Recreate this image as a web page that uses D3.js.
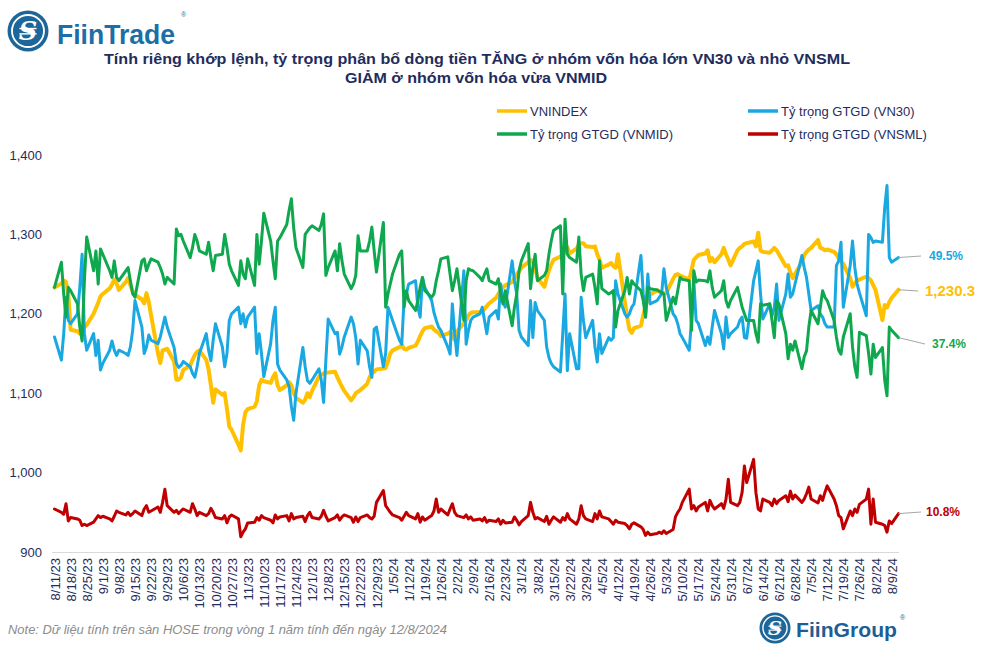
<!DOCTYPE html>
<html>
<head>
<meta charset="utf-8">
<script src="https://cdn.jsdelivr.net/npm/d3@7/dist/d3.min.js"></script>
<style>
  html, body { margin: 0; padding: 0; background: #ffffff; }
  svg { display: block; }
  text { font-family: "Liberation Sans", Arial, sans-serif; }
</style>
</head>
<body>
<svg id="chart" width="986" height="651"></svg>
<script>
// ---------------- DATA ----------------
const titleLines = [
  "Tính riêng khớp lệnh, tỷ trọng phân bổ dòng tiền TĂNG ở nhóm vốn hóa lớn VN30 và nhỏ VNSML",
  "GIẢM ở nhóm vốn hóa vừa VNMID"
];
const seriesNames = ["VNINDEX", "Tỷ trọng GTGD (VN30)", "Tỷ trọng GTGD (VNMID)", "Tỷ trọng GTGD (VNSML)"];
const yTicks = [900, 1000, 1100, 1200, 1300, 1400];
const weekLabels = ["8/11/23","8/18/23","8/25/23","9/1/23","9/8/23","9/15/23","9/22/23","9/29/23","10/6/23","10/13/23","10/20/23","10/27/23","11/3/23","11/10/23","11/17/23","11/24/23","12/1/23","12/8/23","12/15/23","12/22/23","12/29/23","1/5/24","1/12/24","1/19/24","1/26/24","2/2/24","2/9/24","2/16/24","2/23/24","3/1/24","3/8/24","3/15/24","3/22/24","3/29/24","4/5/24","4/12/24","4/19/24","4/26/24","5/3/24","5/10/24","5/17/24","5/24/24","5/31/24","6/7/24","6/14/24","6/21/24","6/28/24","7/5/24","7/12/24","7/19/24","7/26/24","8/2/24","8/9/24"];
const firstDay = "8/11/23";
const lastDay = "8/12/24";

// trading days: 8/11/23, then Mon..Fri of each week, then 8/12/24
const vnindex = [1233,
 1238,1242,1240,1225,1180,
 1178,1175,1180,1183,1186,
 1200,1207,1214,1222,1225,
 1232,1237,1243,1238,1230,
 1240,1245,1236,1228,1224,
 1218,1213,1226,1215,1198,
 1150,1138,1154,1155,1156,
 1140,1117,1117,1120,1129,
 1135,1142,1148,1152,1154,
 1142,1130,1110,1088,1105,
 1098,1100,1080,1058,1054,
 1035,1028,1060,1076,1080,
 1083,1090,1110,1117,1115,
 1113,1120,1125,1110,1104,
 1110,1114,1110,1100,1094,
 1088,1092,1100,1095,1103,
 1121,1123,1125,1126,1126,
 1127,1120,1114,1108,1103,
 1091,1095,1100,1102,1104,
 1112,1120,1125,1127,1130,
 1131,1132,1140,1150,1154,
 1158,1161,1156,1155,1157,
 1160,1165,1172,1178,1182,
 1184,1180,1178,1176,1172,
 1175,1177,1172,1167,1178,
 1188,1192,1198,1201,1202,
 1202,1203,1206,1210,1213,
 1220,1225,1230,1233,1236,
 1240,1245,1250,1253,1258,
 1265,1268,1265,1258,1245,
 1234,1245,1255,1262,1268,
 1272,1276,1280,1284,1276,
 1282,1287,1289,1289,1285,
 1284,1285,1275,1268,1258,
 1262,1264,1260,1258,1275,
 1215,1196,1180,1176,1182,
 1185,1198,1210,1218,1224,
 1230,1228,1227,1226,1226,
 1244,1249,1250,1248,1247,
 1243,1255,1268,1271,1274,
 1276,1280,1266,1270,1265,
 1275,1283,1275,1268,1261,
 1280,1283,1285,1288,1289,
 1291,1285,1302,1280,1278,
 1277,1280,1283,1280,1275,
 1260,1261,1252,1245,1250,
 1265,1274,1278,1281,1283,
 1293,1283,1282,1280,1281,
 1278,1275,1270,1266,1263,
 1245,1234,1238,1242,1243,
 1247,1245,1242,1236,1230,
 1192,1211,1208,1215,1220,
 1230.3];

const vn30 = [37.5,
 34,38,43.5,40,39.5,
 41,45,50,38,35.5,
 38,34.7,37,32.5,33.5,
 35.5,36.9,35.5,34.7,35.5,
 35,34.7,36,38.5,43,
 39,35,36,37.8,37,
 36.5,37.5,39,40.5,39,
 35.9,33.5,32.9,33.2,33.8,
 33,32,31.4,33,35,
 38,35.5,33.9,37,39.5,
 36,33,35,40,41,
 42,39.5,41,39,40.5,
 42,35,38,35,31.5,
 36.5,40,42,33.4,32.5,
 31,30,27,24.9,29,
 35.9,33,30.9,30.5,31,
 32.7,31,27.6,34,40.2,
 38,38.2,34.9,36,37.5,
 40.5,39.5,37.4,33.4,37,
 35.4,33,31.4,38.7,39,
 33,35,42,41,40,
 37,36.4,43.2,44,45.5,
 46,42,40.5,46.5,45,
 43,41.2,40,39,38.5,
 36,34.9,42.5,38,34.7,
 47.5,36.4,38.5,40,40.5,
 41,42,40,38,40.5,
 41.5,40.2,45.5,43,42,
 49,46,44,38.5,37.5,
 36.2,43,37.4,42.7,41.5,
 40,36,34.4,33.5,33,
 32.2,38,44,32.4,38,
 32.7,32.7,43.5,40,37.4,
 40,36,33.7,38,35,
 37.4,37,37.4,46,44,
 41,40.5,41,42,42.5,
 49.8,44,40.5,47,42.5,
 43,43.5,44,47.8,45,
 41,40.5,39.5,38,37.4,
 35.5,40,46,40,39.5,
 36.2,37.5,36.4,39,41.5,
 38,35.7,40.5,37.4,38,
 39,40,40.5,37.4,37.3,
 46,47.5,49,44,40.2,
 42.5,40.7,42,45.5,40,
 44,47,43.5,44,45.5,
 49.8,48,46.5,44,41.5,
 42.2,41,40.5,39.5,39,
 39,48.3,49,51.8,42,
 48.3,52,48,45.5,44.2,
 40.7,53,52.5,51.8,52,
 51.8,57,60.4,49.5,48.8,
 49.5];

const vnmid = [45,
 48.8,44,40.5,45,44.5,
 42.5,39,36.9,46,52.6,
 47.5,50.5,45.5,50.8,50,
 47.5,46.5,49,46.5,46,
 47.5,48,46,44,43.5,
 49,49.3,47.5,48.5,49.3,
 48.8,48,47,45.5,46.5,
 45.5,53.8,52.8,53,52,
 49.5,51,53,52,50.5,
 50,51.8,49.5,47.5,49.8,
 50,53,51,48.5,47.5,
 45.3,49,47,46.3,49.3,
 45.3,53,48.5,52,56.2,
 52,49,46.3,52,52.5,
 54.5,56.6,58.4,54,51,
 48,53,53.5,54,54.3,
 53.6,54.5,56.1,46.8,48,
 50.5,47.5,51.6,49,47,
 44.8,45.5,46.8,52.8,50.5,
 50.5,52,54.1,50.5,47.3,
 54.8,42,44,45.5,47,
 50,50.5,42,44.5,43,
 41.5,43,45,46.5,44.5,
 43.5,44,46,47.5,49.3,
 49.6,47,44.5,46,47.8,
 40,46,47.8,47.6,47.5,
 46.5,46,47,47.8,46,
 45.5,46.3,44,42.5,44.5,
 39.2,42,44,47.5,49,
 51.6,44.8,48,50,46,
 46.8,47.5,50,52,53.6,
 54.3,44,55.3,50,49.5,
 48.8,52.6,47,44.5,46.5,
 47,45,42.5,49,44.8,
 44,44.2,44.5,39,41.5,
 44.5,46.5,44,46,45.5,
 44.5,43,40.5,45,44.8,
 44.6,44.4,44.2,44,40,
 43.5,42.5,44.5,46.5,46.2,
 46,38.5,47.5,45.8,46.1,
 46,45.8,47.5,45,43.5,
 44.5,46,43,42,43,
 45,43.5,42,41,40,
 40,38,36.7,42.5,42.3,
 42.5,40,37.4,43,42.5,
 38,34.2,36.4,35.5,36.9,
 32.7,34.5,35.4,39,41.5,
 39.5,42,44.5,43.5,43,
 40,37.5,35.5,34.9,37.5,
 41,36,33,31.4,38.2,
 37.7,35,31.9,36.4,34.4,
 35.9,31,28.6,39,38.5,
 37.4];

const vnsml = [11.5,
 11,10.7,12.3,9.7,10.2,
 10,9.8,9,9.2,9,
 9.5,10,10.5,10.2,10.4,
 10,9.7,10.4,11.2,11,
 10.6,11,10.5,10.8,11.2,
 10.5,11.5,12,11,11.2,
 11.8,11,12.5,14.5,12,
 11,11.3,10.8,11.2,11.5,
 11,12.3,11.5,10.5,11,
 10.5,10.8,11.6,11,10.2,
 10,10.5,9.4,10.3,10.6,
 10,7.3,8,8.5,9.4,
 9.5,10.2,9.8,10.5,10.2,
 9.8,9.4,10.6,10,10.3,
 10.5,9.7,10.8,10,10.2,
 10.4,9.6,10.5,11,10.2,
 10,10.4,11.3,10.4,9.7,
 10.2,10.6,9.8,10.3,10.6,
 10.2,9.5,10.3,9.6,10.2,
 10.6,10.2,10,10.4,12.5,
 14.3,12,11.5,11,10.6,
 10.2,9.8,10.4,11,10.5,
 10,10.8,9.5,10.3,9.8,
 10.5,11.2,13,11,11.5,
 10.6,11.5,12.3,11,10.5,
 10.2,10.6,10,10.3,9.8,
 10,9.7,10.2,9.5,9.8,
 9.6,10,9.2,9.8,9.4,
 9.5,10.3,9.8,9.1,9.6,
 10.5,12.5,11,10,10.2,
 9.6,10.4,9.2,9.8,10.3,
 9.5,10.2,9.8,10.8,10,
 9.2,10,12,10.5,10,
 9.6,10.8,10,11.2,10.3,
 10,9.6,9.2,9.8,9.5,
 9.3,9,8.5,9.2,9.4,
 8.8,8.4,7.5,8,7.6,
 7.8,8,7.8,8.2,7.8,
 8.4,10.3,11,11.5,12.5,
 14.5,11.5,12,11.2,11.8,
 12.5,11.2,12.8,12,11.5,
 12.3,11.6,13,16,12.5,
 12,12.5,14,18,15.5,
 19,14,11.5,11.2,13,
 12.5,12,13,12.3,12.8,
 13.5,12.6,14.2,13,13.6,
 12.5,13,13.8,14.8,13,
 12.4,13.5,12.8,14,15,
 13,12,10.5,10.2,8.5,
 11.2,10.5,11.5,11,12.2,
 13,14.5,9.2,13,9.5,
 9.2,9,8,9.7,9.3,
 10.8];

const endLabels = ["1,230.3", "49.5%", "37.4%", "10.8%"];
const noteText = "Note: Dữ liệu tính trên sàn HOSE trong vòng 1 năm tính đến ngày 12/8/2024";

// ---------------- HELPERS ----------------
function parseMDY(s) {
  const [m, d, y] = s.split("/").map(Number);
  return new Date(2000 + y, m - 1, d);
}
// trading-day calendar (weekdays) from first to last day
const dates = [];
for (let t = parseMDY(firstDay); t <= parseMDY(lastDay); t = d3.timeDay.offset(t, 1)) {
  const wd = t.getDay();
  if (wd !== 0 && wd !== 6) dates.push(new Date(t));
}

const colors = { vnindex: "#ffc000", vn30: "#19a8e2", vnmid: "#0fa84e", vnsml: "#c00000" };
const navy = "#1f2d5c";

// ---------------- SCALES ----------------
const svg = d3.select("#chart");
const x = d3.scaleTime().domain([parseMDY(firstDay), parseMDY(lastDay)]).range([54.5, 898.5]);
const yL = d3.scaleLinear().domain([900, 1400]).range([552, 155]);
const yR = d3.scaleLinear().domain([5, 65]).range([552, 155]);

// ---------------- LOGO (FiinTrade) ----------------
function logo(g, cx, cy, r) {
  g.append("circle").attr("cx", cx).attr("cy", cy).attr("r", r).attr("fill", "#1c6699");
  g.append("circle").attr("cx", cx).attr("cy", cy).attr("r", r * 0.78).attr("fill", "none")
    .attr("stroke", "#ffffff").attr("stroke-width", r * 0.09);
  g.append("text").attr("x", cx).attr("y", cy).attr("dy", "0.36em").attr("text-anchor", "middle")
    .attr("fill", "#ffffff").style("font-family", "'DejaVu Serif', 'Liberation Serif', serif")
    .style("font-weight", "bold").style("font-style", "italic").style("font-size", (r * 1.25) + "px").text("S");
  g.append("line").attr("x1", cx - r * 0.42).attr("x2", cx + r * 0.42).attr("y1", cy - r * 0.12).attr("y2", cy - r * 0.12)
    .attr("stroke", "#ffffff").attr("stroke-width", r * 0.07);
  g.append("line").attr("x1", cx - r * 0.42).attr("x2", cx + r * 0.42).attr("y1", cy + r * 0.14).attr("y2", cy + r * 0.14)
    .attr("stroke", "#ffffff").attr("stroke-width", r * 0.07);
}
logo(svg.append("g"), 28, 31, 20.5);
svg.append("text").attr("x", 57).attr("y", 44).attr("fill", "#1c6ea6")
  .style("font-size", "28px").style("font-weight", "bold")
  .attr("textLength", 118).attr("lengthAdjust", "spacingAndGlyphs").text("FiinTrade");
svg.append("text").attr("x", 181).attr("y", 17).attr("fill", "#1c6ea6").style("font-size", "7px").text("®");

// ---------------- TITLE ----------------
svg.append("text").attr("x", 477).attr("y", 64).attr("text-anchor", "middle").attr("fill", navy)
  .style("font-size", "15px").style("font-weight", "bold")
  .attr("textLength", 746).attr("lengthAdjust", "spacingAndGlyphs").text(titleLines[0]);
svg.append("text").attr("x", 476).attr("y", 83).attr("text-anchor", "middle").attr("fill", navy)
  .style("font-size", "15px").style("font-weight", "bold")
  .attr("textLength", 262).attr("lengthAdjust", "spacingAndGlyphs").text(titleLines[1]);

// ---------------- LEGEND ----------------
const legendItems = [
  { name: seriesNames[0], color: colors.vnindex, x: 497, y: 111 },
  { name: seriesNames[1], color: colors.vn30, x: 748, y: 111 },
  { name: seriesNames[2], color: colors.vnmid, x: 497, y: 134 },
  { name: seriesNames[3], color: colors.vnsml, x: 748, y: 134 }
];
const lg = svg.append("g");
legendItems.forEach(d => {
  lg.append("line").attr("x1", d.x).attr("x2", d.x + 30).attr("y1", d.y).attr("y2", d.y)
    .attr("stroke", d.color).attr("stroke-width", 3.5);
  lg.append("text").attr("x", d.x + 33).attr("y", d.y).attr("dy", "0.35em").attr("fill", navy)
    .style("font-size", "13px").text(d.name);
});

// ---------------- AXES ----------------
const yAxis = d3.axisLeft(yL).tickValues(yTicks).tickSize(0).tickPadding(0).tickFormat(d3.format(","));
const gy = svg.append("g").attr("transform", "translate(42,0)").call(yAxis);
gy.select(".domain").remove();
gy.selectAll("text").attr("fill", navy).style("font-size", "13px")
  .style("font-family", "'Liberation Sans', Arial, sans-serif");

const tickDates = weekLabels.map(parseMDY);
const xAxis = d3.axisBottom(x).tickValues(tickDates).tickSize(0).tickFormat((d, i) => weekLabels[i]);
const gx = svg.append("g").attr("transform", "translate(0,552)").call(xAxis);
gx.select(".domain").attr("stroke", "#d9d9d9").attr("stroke-width", 1)
  .attr("d", "M52,0.5H899");
gx.selectAll("text")
  .attr("fill", navy).style("font-size", "13px").style("font-family", "'Liberation Sans', Arial, sans-serif")
  .attr("text-anchor", "end").attr("transform", "rotate(-90)")
  .attr("x", -6).attr("y", 0).attr("dy", "0.35em");

// ---------------- LINES ----------------
const plot = svg.append("g");
function drawLine(values, yScale, color, width) {
  const line = d3.line().x((d, i) => x(dates[i])).y(d => yScale(d));
  plot.append("path").datum(values).attr("fill", "none").attr("stroke", color)
    .attr("stroke-width", width).attr("stroke-linejoin", "round").attr("stroke-linecap", "round").attr("d", line);
}
drawLine(vnindex, yL, colors.vnindex, 4);
drawLine(vn30, yR, colors.vn30, 3);
drawLine(vnmid, yR, colors.vnmid, 3);
drawLine(vnsml, yR, colors.vnsml, 3);

// ---------------- END LABELS ----------------
const n = dates.length - 1;
const ends = [
  { v: yL(vnindex[n]), label: endLabels[0], color: colors.vnindex, lx: 918, ly: 291, tx: 925, size: 15 },
  { v: yR(vn30[n]), label: endLabels[1], color: colors.vn30, lx: 921, ly: 256, tx: 929, size: 12 },
  { v: yR(vnmid[n]), label: endLabels[2], color: colors.vnmid, lx: 925, ly: 344, tx: 932, size: 12 },
  { v: yR(vnsml[n]), label: endLabels[3], color: colors.vnsml, lx: 921, ly: 512, tx: 926, size: 12 }
];
ends.forEach(e => {
  svg.append("line").attr("x1", x(dates[n])).attr("y1", e.v).attr("x2", e.lx).attr("y2", e.ly)
    .attr("stroke", "#a6a6a6").attr("stroke-width", 1);
  svg.append("text").attr("x", e.tx).attr("y", e.ly).attr("dy", "0.35em").attr("fill", e.color)
    .style("font-size", e.size + "px").style("font-weight", "bold").text(e.label);
});

// ---------------- FOOTER ----------------
svg.append("text").attr("x", 8).attr("y", 634).attr("fill", "#8c8c8c")
  .style("font-size", "12.5px").style("font-style", "italic")
  .attr("textLength", 439).attr("lengthAdjust", "spacingAndGlyphs").text(noteText);
logo(svg.append("g"), 775, 628, 15.5);
svg.append("text").attr("x", 796).attr("y", 637).attr("fill", "#1c5f96")
  .style("font-size", "21px").style("font-weight", "bold")
  .attr("textLength", 101).attr("lengthAdjust", "spacingAndGlyphs").text("FiinGroup");
svg.append("text").attr("x", 900).attr("y", 620).attr("fill", "#1c5f96").style("font-size", "7px").text("®");
</script>
</body>
</html>
